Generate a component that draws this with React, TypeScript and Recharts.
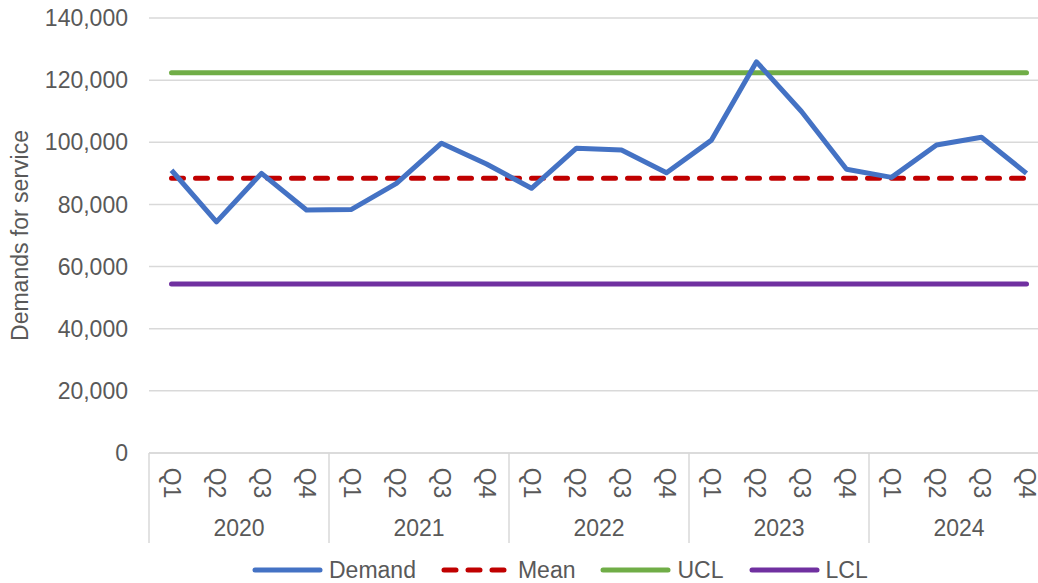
import React from 'react'
import {
  ComposedChart, Line, XAxis, YAxis, CartesianGrid, Legend,
} from 'recharts'

const YEARS = ['2020', '2021', '2022', '2023', '2024']
const QUARTERS = ['Q1', 'Q2', 'Q3', 'Q4']

// quarterly demand, 2020 Q1 .. 2024 Q4
const DEMAND = [
  91000, 74400, 90000, 78200,
  78400, 86800, 99700, 93000,
  85200, 98100, 97500, 90200,
  100700, 125900, 109900, 91300,
  88700, 99100, 101600, 90000,
]

const MEAN = 88400
const UCL = 122400
const LCL = 54400

const Y_TICKS = [0, 20000, 40000, 60000, 80000, 100000, 120000, 140000]

const TEXT = '#595959'
const GRID = '#D9D9D9'
const FONT = '"Liberation Sans", Arial, sans-serif'

const SERIES = [
  { key: 'Demand', colour: '#4472C4', dashed: false },
  { key: 'Mean', colour: '#C00000', dashed: true },
  { key: 'UCL', colour: '#70AD47', dashed: false },
  { key: 'LCL', colour: '#7030A0', dashed: false },
]

const data = YEARS.flatMap((year, yi) =>
  QUARTERS.map((quarter, qi) => ({
    period: `${year} ${quarter}`,
    year,
    quarter,
    Demand: DEMAND[yi * 4 + qi],
    Mean: MEAN,
    UCL: UCL,
    LCL: LCL,
  })),
)

function QuarterTick(props: any) {
  const { x, y, payload } = props
  const i: number = payload.index ?? props.index ?? 0
  const half: number = payload.offset || 22.5
  const row = data[i]
  return (
    <g>
      <text
        transform={`translate(${x},${y + 30}) rotate(90)`}
        textAnchor="middle"
        dominantBaseline="central"
        fill={TEXT}
        fontSize={23}
        fontFamily={FONT}
      >
        {row.quarter}
      </text>
      {i % 4 === 0 && (
        <>
          <line x1={x - half} x2={x - half} y1={y} y2={y + 90} stroke={GRID} strokeWidth={1.5} />
          <text
            x={x + 3 * half}
            y={y + 75}
            textAnchor="middle"
            dominantBaseline="central"
            fill={TEXT}
            fontSize={23}
            fontFamily={FONT}
          >
            {row.year}
          </text>
        </>
      )}
    </g>
  )
}

function YLabel(props: any) {
  const vb = props.viewBox
  const cy = vb.y + vb.height / 2
  return (
    <text
      transform={`rotate(-90, 20, ${cy})`}
      x={20}
      y={cy}
      textAnchor="middle"
      dominantBaseline="central"
      fill={TEXT}
      fontSize={23}
      fontFamily={FONT}
    >
      Demands for service
    </text>
  )
}

function ChartLegend() {
  return (
    <div style={{ display: 'flex', alignItems: 'center', height: 40, fontFamily: FONT, fontSize: 23, color: TEXT }}>
      {SERIES.map(s => (
        <div key={s.key} style={{ display: 'flex', alignItems: 'center', marginRight: 25 }}>
          <svg width={71} height={10} style={{ marginRight: 6 }}>
            <line
              x1={3} x2={68} y1={5} y2={5}
              stroke={s.colour}
              strokeWidth={5}
              strokeLinecap="round"
              strokeDasharray={s.dashed ? '12 12' : undefined}
            />
          </svg>
          <span>{s.key}</span>
        </div>
      ))}
    </div>
  )
}

export default function App() {
  return (
    <div style={{ position: 'fixed', left: 0, top: 0, width: 1038, height: 583, overflow: 'hidden', background: '#fff', fontFamily: FONT }}>
      <ComposedChart
        width={1060}
        height={583}
        data={data}
        margin={{ top: 18, right: 11, left: 0, bottom: 0 }}
      >
        <CartesianGrid vertical={false} stroke={GRID} strokeWidth={1.5} />
        <XAxis
          dataKey="period"
          scale="band"
          interval={0}
          height={90}
          tickSize={0}
          tickMargin={0}
          tickLine={false}
          axisLine={{ stroke: GRID, strokeWidth: 1.5 }}
          tick={<QuarterTick />}
        />
        <YAxis
          width={149}
          domain={[0, 140000]}
          ticks={Y_TICKS}
          interval={0}
          axisLine={false}
          tickLine={false}
          tickMargin={15}
          tick={{ fill: TEXT, fontSize: 23, fontFamily: FONT }}
          tickFormatter={(v: number) => v.toLocaleString('en-US')}
          label={<YLabel />}
        />
        <Legend
          verticalAlign="bottom"
          content={<ChartLegend />}
          wrapperStyle={{ left: 252, bottom: -7, width: 'auto', height: 40 }}
        />
        <Line dataKey="Mean" stroke="#C00000" strokeWidth={5} strokeDasharray="12 12" strokeLinecap="round" dot={false} isAnimationActive={false} />
        <Line dataKey="UCL" stroke="#70AD47" strokeWidth={5} strokeLinecap="round" dot={false} isAnimationActive={false} />
        <Line dataKey="LCL" stroke="#7030A0" strokeWidth={5} strokeLinecap="round" dot={false} isAnimationActive={false} />
        <Line dataKey="Demand" stroke="#4472C4" strokeWidth={5} strokeLinejoin="round" dot={false} isAnimationActive={false} />
      </ComposedChart>
    </div>
  )
}
